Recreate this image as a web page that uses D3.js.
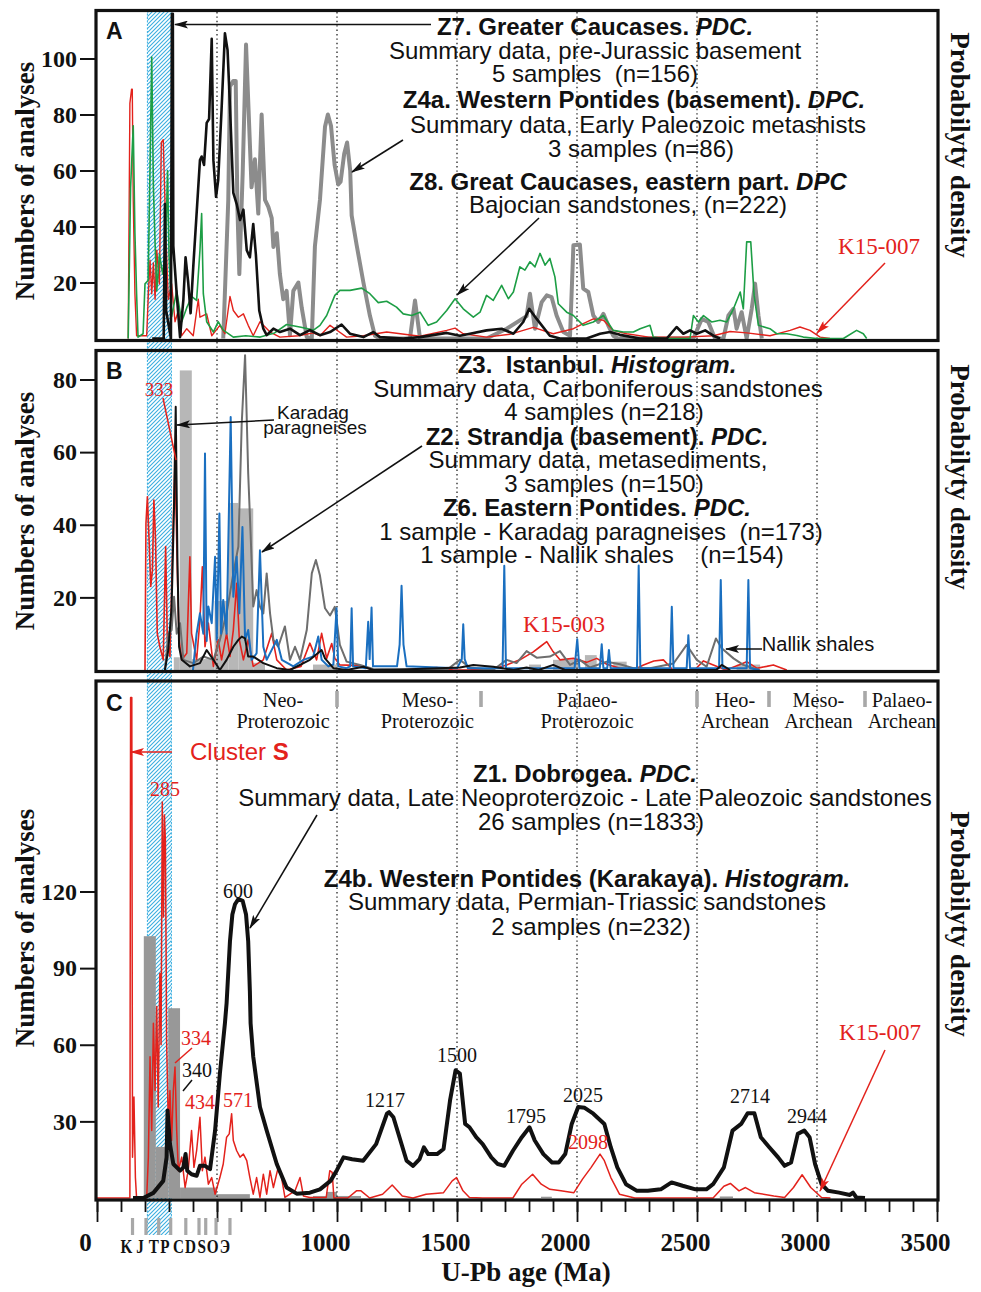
<!DOCTYPE html>
<html>
<head>
<meta charset="utf-8">
<script src="https://cdn.jsdelivr.net/npm/d3@7"></script>
<style>
  body { margin: 0; background: #fff; }
  svg text { white-space: pre; }
</style>
</head>
<body>
<div id="chart"></div>
<script>
/* U-Pb detrital zircon age spectra, three stacked panels A, B, C */

// ---- panel A : [age Ma, value] ----
const A_Z7_PDC = [[230,0],[278,0],[283,48],[288,10],[300,4],[308,0],[312,116],[316,116],[318,33],[332,16],[346,0.5],[360,14],[369,29],[380,20],[390,9],[401,25.5],[415,44.6],[429,63.7],[436,65],[446,62],[457,77],[467,78.4],[478,107],[485,63.7],[496,50.6],[505,56.6],[519,81.7],[533,109],[544,103],[554,83],[568,52],[582,48],[596,42.3],[610,46],[624,31.5],[637,29],[651,40.9],[662,30],[676,10],[693,3.5],[707,1.2],[735,3.5],[762,2.3],[804,3.5],[846,1.2],[887,3],[929,1.2],[971,2.3],[1019,5],[1054,1.7],[1110,0.5],[1151,2.3],[1179,0.5],[1276,0],[1346,0.5],[1457,2],[1512,1],[1554,1.7],[1623,2.9],[1686,3.5],[1735,1.7],[1776,5.9],[1801,10.6],[1832,7],[1887,1],[1929,0],[2040,0],[2096,1.7],[2137,2.3],[2179,1.3],[2262,0],[2374,0],[2415,4.1],[2443,1.7],[2471,2.9],[2499,1.7],[2534,2.9],[2568,1],[2596,0]];
const A_Z4A_DPC = [[526,0],[547,49.5],[554,90],[568,92],[578,92],[585,47],[593,23],[607,59],[621,105],[630,85],[644,54],[658,64],[672,44.6],[686,80],[700,49.5],[714,47],[728,43],[735,32.7],[749,37.6],[762,23],[776,14],[790,17],[804,1.2],[818,17],[839,20],[853,11],[874,0.5],[895,0],[908,33],[929,49.5],[950,75.6],[962,80],[975,76],[990,62],[1005,55],[1015,56],[1030,66],[1042,70],[1055,60],[1061,44],[1082,33.3],[1110,20],[1137,8.2],[1158,1],[1179,0],[1304,0],[1325,13.6],[1346,0],[1623,0],[1707,3.5],[1790,8],[1804,16],[1825,3.5],[1853,13],[1874,15.4],[1894,14.8],[1915,8.2],[1943,2.3],[1971,1],[1985,33.3],[2012,33.6],[2026,17.8],[2047,16.6],[2068,8.2],[2089,5.9],[2110,8.8],[2130,4.7],[2151,1],[2170,0],[2485,0],[2520,7],[2547,5.9],[2575,0],[2610,0],[2631,8.2],[2652,10.6],[2665,3.5],[2686,9.4],[2707,0],[2728,10.6],[2742,19.6],[2756,8.2],[2770,0]];
const A_Z8_DPC = [[130,0],[140,54],[151,76],[158,37.6],[165,16],[171,0.5],[192,1.7],[200,19.5],[213,20.7],[221,61],[228,100.5],[235,54],[242,34],[249,17],[260,30],[274,23],[286,32],[294,60],[300,30],[311,7.8],[332,17],[353,6],[374,11],[395,15],[415,13.6],[429,31.5],[436,44.6],[443,16],[457,6],[485,2.3],[505,6],[526,3],[568,0.5],[620,1],[680,0.5],[740,2],[790,5],[850,4],[902,3],[929,4.7],[957,8.2],[991,15.4],[1012,17.2],[1054,17.2],[1103,18],[1137,16],[1172,12.8],[1207,13.3],[1248,11.2],[1276,8.8],[1311,8.2],[1346,9.4],[1380,4.7],[1415,5.9],[1457,10],[1492,14.2],[1526,10.6],[1568,7.6],[1596,9.4],[1623,15.4],[1651,13.6],[1686,19],[1714,14.2],[1735,16.6],[1762,25.6],[1783,24.4],[1804,27.4],[1825,25.6],[1846,30.4],[1867,26.2],[1887,28.6],[1908,22],[1922,12.4],[1957,9.4],[1985,8.2],[2026,4.7],[2068,5.9],[2110,8.2],[2151,2.9],[2193,2.3],[2235,2.3],[2263,3.5],[2304,4.7],[2318,0.5],[2360,0],[2471,0],[2485,8.2],[2506,5.9],[2527,8.2],[2561,5.9],[2596,6.5],[2624,5.9],[2652,10.6],[2680,16.6],[2693,10.6],[2707,34.5],[2724,34.5],[2738,15.4],[2756,4.7],[2804,3.5],[2832,1.7],[2874,1.7],[2916,1.1],[2943,0.5],[2999,0],[3110,0],[3165,2.9],[3193,1.7],[3207,0]];
const A_K15_007 = [[130,0],[137,84],[144,89],[147,89],[151,49.5],[158,16],[165,1],[207,1],[214,16],[221,28],[228,16],[235,27],[242,14],[249,31.5],[260,19.5],[268,70],[276,71],[283,49.5],[290,30],[297,14],[311,19.5],[325,6],[339,10],[353,1],[374,3.5],[401,1],[422,14],[429,7.6],[457,8.8],[478,1],[512,4.7],[533,1.7],[554,15],[568,10],[589,7.6],[610,8.8],[630,4.7],[651,1],[679,6],[721,2.3],[762,0.5],[840,1],[900,2],[929,1],[971,4.7],[991,3.5],[1040,0.5],[1110,1],[1207,2.3],[1346,0.8],[1457,2.9],[1492,3.7],[1526,1.7],[1623,0.5],[1720,1.5],[1818,4],[1901,1.7],[1985,3.5],[2026,5.3],[2068,7],[2110,6.5],[2151,2.9],[2207,1.7],[2300,0.5],[2450,0.5],[2568,1],[2638,2.5],[2707,2],[2804,1],[2888,2.9],[2929,4.1],[2971,2.9],[3013,0.5],[3054,0]];

// ---- panel B ----
// histogram bins: [from Ma, to Ma, count]
const B_Z3_HIST = [[320,345,3.5],[345,395,82.5],[395,490,3],[490,547,19],[547,589,46],[589,651,44.5],[651,700,2],[900,1000,1.5],[1800,1850,1.5],[1900,2005,2.8],[2033,2082,4.1],[2151,2207,2.3],[2665,2763,1.5]];
const B_Z2_PDC = [[400,0],[415,10],[429,15.6],[443,10],[450,59.6],[457,8],[464,17.5],[478,12.9],[492,31.2],[499,8.3],[510,43.1],[517,10],[526,19.3],[540,10],[557,69.7],[568,20.2],[582,31.2],[593,15.6],[606,39.4],[617,8.3],[630,11],[644,2.8],[665,4.6],[679,33],[693,6.4],[707,2.8],[749,8.3],[770,2.8],[818,1],[860,2.8],[901,3.7],[922,9.2],[936,2.8],[964,1],[985,1.5],[998,17],[1005,1],[1040,0.5],[1055,1],[1061,17],[1067,1],[1120,0.5],[1130,13.3],[1136,3],[1144,17.2],[1150,1],[1250,1],[1261,7],[1269,23.2],[1277,7],[1290,1],[1500,0.5],[1520,3],[1526,12.6],[1532,3],[1545,0.5],[1690,0.5],[1697,28.7],[1704,0.5],[1990,0.5],[2001,8.5],[2010,0.5],[2095,0.5],[2103,7.1],[2110,0.5],[2126,0.5],[2133,5.5],[2140,0.5],[2250,0.5],[2257,28.8],[2264,0.5],[2388,0.5],[2395,17.4],[2402,0.5],[2457,0.5],[2464,9.6],[2471,0.5],[2592,0.5],[2599,24.8],[2606,0.5],[2707,0.5],[2714,24.8],[2721,0.5],[2760,0]];
const B_Z6_KARADAG = [[283,0],[297,5.5],[311,17.5],[321,45],[328,72.5],[335,31.2],[342,6.4],[353,2.8],[387,1],[429,1.9],[457,5.5],[485,2.8],[512,0],[540,2.8],[568,6.4],[589,8.3],[603,9.2],[617,8.7],[630,3.7],[651,3.7],[693,1.9],[749,0.5],[804,0],[887,2.8],[936,5.5],[950,3.2],[985,0.5],[1040,0],[1110,0.9],[1151,0],[1332,0.3],[1512,0.7],[1568,1.4],[1651,0.9],[1735,0],[1790,0.7],[1840,0],[1901,1.4],[1950,0],[2580,0],[2603,1.4],[2638,0]];
const B_Z6_NALLIK = [[283,0],[297,10],[311,11],[321,20.2],[332,10],[346,12.9],[360,2.8],[401,1.9],[443,3.7],[485,2.8],[512,8.3],[540,15.6],[568,26.6],[589,34],[603,67.9],[617,86.7],[630,54.1],[640,37.6],[651,17.5],[665,22],[679,17.5],[693,15.6],[707,26.6],[721,15.6],[735,8.3],[755,6.4],[783,12],[804,2.8],[825,6.4],[846,2.8],[874,11],[895,26.6],[912,30.3],[929,26],[950,17],[971,15],[991,17.4],[1012,6.9],[1040,2.3],[1096,1.4],[1151,0.3],[1300,0],[1457,0],[1512,2.8],[1554,0.7],[1650,0],[1707,2.8],[1748,1.9],[1790,5.2],[1832,3.4],[1887,3.7],[1929,5.2],[1971,1.4],[2012,2.8],[2054,0.7],[2124,2.3],[2179,1.6],[2235,0.5],[2304,0.5],[2402,1.8],[2457,6.9],[2499,2.8],[2540,0.9],[2579,8.7],[2603,6],[2652,3.2],[2693,1.4],[2735,0.5],[2760,0]];
const B_K15_003 = [[200,0],[204,40.4],[210,47.7],[217,35.8],[224,23],[231,27.5],[237,46.8],[244,35.8],[251,10.1],[262,6.4],[276,2.8],[286,34],[293,8.3],[304,3.7],[315,34],[325,57.8],[335,26.6],[342,8.3],[353,2.8],[374,4.6],[387,31.2],[394,10.1],[415,2.8],[429,13.8],[439,28.4],[450,6.4],[464,12.9],[485,1],[505,8.3],[519,2.8],[540,10.1],[554,3.7],[568,11],[582,23.9],[593,8.3],[610,2.8],[630,8.3],[651,1],[693,2.8],[728,10.1],[749,2.8],[790,0],[850,1],[887,7.4],[915,2.8],[936,10.1],[957,3.2],[978,7.3],[991,3.2],[1012,1.4],[1096,1.2],[1151,0],[1276,0],[1346,0.3],[1415,0.7],[1485,0],[1540,0],[1651,0.3],[1707,1.4],[1762,2.8],[1818,5],[1846,6.4],[1874,7.8],[1901,5],[1929,2.8],[1985,3.2],[2040,2.1],[2082,3.2],[2124,1.6],[2179,0.5],[2235,0],[2277,1.4],[2320,2.5],[2360,2.8],[2400,0],[2490,0],[2527,2.5],[2568,1.4],[2620,0],[2680,1.5],[2707,2.3],[2749,0.5],[2790,1],[2818,1.4],[2874,0]];

// ---- panel C ----
const C_Z4B_HIST = [[195,245,102.5],[245,297,20],[297,346,74.3],[346,499,4.1],[499,637,1.5],[900,955,0.8],[955,1000,2.4],[1000,1100,0.8],[1850,1895,0.5],[2595,2650,0.6],[3170,3200,0.3]];
const C_Z1_PDC = [[150,0],[193,0],[235,2],[276,6.7],[290,15.9],[294,34.3],[304,21.1],[318,13.3],[346,10.7],[360,12],[369,17.2],[376,10.7],[394,9.3],[415,8.7],[429,12.6],[450,12.6],[471,11.3],[492,26.4],[512,48.7],[533,68.4],[540,76.3],[554,100.5],[564,111],[575,115],[589,117],[607,116.3],[621,111],[630,100.5],[637,80.9],[640,68.4],[651,55.3],[679,35.6],[707,26.4],[749,13.3],[790,4.1],[832,1.7],[887,2.1],[929,3.4],[973,6.7],[1000,11],[1027,15.9],[1063,15.2],[1109,14.6],[1163,21.1],[1208,33],[1217,33.6],[1235,31.6],[1290,14.6],[1317,12.6],[1344,15.2],[1362,19.8],[1380,17.2],[1417,17.2],[1444,19.2],[1471,38.2],[1494,50],[1512,48.7],[1534,29],[1552,27.7],[1580,23.8],[1607,21.1],[1643,15.9],[1670,13.3],[1697,12.6],[1733,18.5],[1770,23.8],[1802,27.7],[1824,22.5],[1860,17.2],[1896,13.9],[1924,13.9],[1951,17.2],[1978,29],[2005,35.6],[2032,35.3],[2068,33],[2114,29],[2141,19.8],[2168,12],[2204,5.4],[2250,2.8],[2295,2.8],[2349,3.4],[2394,6.1],[2440,4.8],[2494,3.4],[2539,3.4],[2567,5.4],[2612,12],[2648,26.4],[2684,29],[2711,33.2],[2739,33.2],[2766,23.8],[2802,19.8],[2838,15.9],[2865,12.6],[2892,13.9],[2920,25.1],[2947,26.4],[2969,23.8],[2992,13.3],[3019,5.4],[3046,2.8],[3092,2.1],[3137,1.2],[3150,2.1],[3164,0.2],[3200,0]];
const C_K15_007 = [[0,0],[137,0],[140,196],[145,196],[148,16],[154,39.5],[160,8],[165,0],[207,0],[214,16],[221,55.3],[228,26.4],[235,68.4],[242,42.1],[249,75],[255,35.6],[262,88],[267,60],[272,155],[277,110],[281,150],[285,140],[288,95],[290,61.8],[297,29],[304,42.1],[311,22.5],[318,42.1],[325,51.3],[332,26.4],[339,10.7],[353,16],[367,4.1],[380,10.7],[394,26.4],[404,12],[415,18.5],[429,31.6],[439,10.7],[450,16],[464,5.4],[478,8],[492,1.5],[512,8],[526,13.3],[540,23.8],[551,25.1],[561,33],[568,22.5],[582,18.5],[596,16],[610,17.2],[624,14.6],[637,8],[651,1.5],[665,8],[679,0.2],[693,9.3],[707,1.5],[721,10.7],[735,4.1],[755,12],[769,8],[783,0.2],[804,1.5],[825,2.8],[846,8],[860,0.8],[887,0.2],[955,0.2],[970,10.7],[980,10],[987,0],[1045,0],[1081,2.8],[1100,2.8],[1136,0],[1190,1.5],[1230,5.1],[1272,0.8],[1317,0],[1371,1.5],[1444,2.1],[1480,6.7],[1498,8],[1525,2.8],[1552,0.2],[1607,0],[1733,0],[1770,5.4],[1815,9.3],[1851,5.4],[1887,3.4],[1933,2.8],[1987,2.1],[2023,7.4],[2059,12],[2096,17.2],[2114,14.6],[2141,8],[2177,1.5],[2241,0],[2567,0],[2612,4.6],[2639,5.7],[2675,2.8],[2702,4.1],[2739,2.1],[2820,0.8],[2865,0.2],[2902,4.1],[2938,9.1],[2974,4.1],[3019,0.2],[3056,0]];

// ---- axes, time scale ----
const A_TICKS = [20, 40, 60, 80, 100];
const B_TICKS = [20, 40, 60, 80];
const C_TICKS = [30, 60, 90, 120];
const X_MINOR = d3.range(0, 3501, 100);
const X_MAJOR = d3.range(0, 3501, 500);
const BAND = [210, 310];                 // hatched age band
const GRID = [500, 1000, 1500, 2000, 2500, 3000];
const PERIODS = ['K', 'J', 'T', 'P', 'C', 'D', 'S', 'O', 'Э'];
const PERIOD_MID = [123, 179, 237, 283, 339, 390, 436, 482, 533];
const PERIOD_BOUNDS = [148, 204, 257, 307, 370, 425, 453, 496, 554];
const ERAS = [['Neo-', 'Proterozoic'], ['Meso-', 'Proterozoic'], ['Palaeo-', 'Proterozoic'], ['Heo-', 'Archean'], ['Meso-', 'Archean'], ['Palaeo-', 'Archean']];
const ERA_MID = [775, 1377, 2042, 2658, 3006, 3354];
const ERA_BOUNDS = [1000, 1600, 2500, 2800, 3200];

const SANS = '"Liberation Sans", Arial, Helvetica, sans-serif';
const SERIF = '"Liberation Serif", "Times New Roman", Times, serif';
const RED = '#e3221c', GREEN = '#1d9e45', BLUE = '#1a6fc0', HATCH = '#3aaee0';

const svg = d3.select('#chart').append('svg').attr('width', 981).attr('height', 1292);
const defs = svg.append('defs');

const x = d3.scaleLinear().domain([0, 3500]).range([97, 937]);

const panels = [
    {name: 'A', top: 10.5, bottom: 340.5, y: d3.scaleLinear().domain([0, 100]).range([338.5, 58.5]), ticks: A_TICKS},
    {name: 'B', top: 350.5, bottom: 671.5, y: d3.scaleLinear().domain([0, 80]).range([670, 379.5]), ticks: B_TICKS},
    {name: 'C', top: 681, bottom: 1200, y: d3.scaleLinear().domain([0, 120]).range([1198, 891.5]), ticks: C_TICKS}
];
const P = {A: panels[0], B: panels[1], C: panels[2]};

// layers
const gHatch = svg.append('g'), gHist = svg.append('g'), gGrid = svg.append('g'),
      gLines = svg.append('g'), gFrame = svg.append('g'), gText = svg.append('g');

// hatch pattern
const pat = defs.append('pattern').attr('id', 'hatch').attr('patternUnits', 'userSpaceOnUse')
    .attr('width', 4).attr('height', 4);
pat.append('path').attr('d', 'M-1,1 L1,-1 M0,4 L4,0 M3,5 L5,3')
    .attr('stroke', HATCH).attr('stroke-width', 1.1);

gHatch.append('rect')
    .attr('x', x(BAND[0])).attr('y', 10).attr('width', x(BAND[1]) - x(BAND[0])).attr('height', 1225)
    .attr('fill', 'url(#hatch)');
BAND.forEach(b => gHatch.append('line')
    .attr('x1', x(b)).attr('x2', x(b)).attr('y1', 10).attr('y2', 1235)
    .attr('stroke', HATCH).attr('stroke-width', 1).attr('stroke-dasharray', '2,1.5'));

// arrowheads
function marker(id, color) {
    defs.append('marker').attr('id', id).attr('viewBox', '0 0 14 8')
        .attr('refX', 13).attr('refY', 4).attr('markerWidth', 14).attr('markerHeight', 8)
        .attr('markerUnits', 'userSpaceOnUse').attr('orient', 'auto')
        .append('path').attr('d', 'M0,0 L14,4 L0,8 L3,4 Z').attr('fill', color);
}
marker('arK', '#111');
marker('arR', RED);

// clip paths
panels.forEach(p => {
    defs.append('clipPath').attr('id', 'clip' + p.name).append('rect')
        .attr('x', 97).attr('y', p.top).attr('width', 840).attr('height', p.bottom - p.top);
});

function hist(p, bins, color) {
    gHist.append('g').attr('clip-path', `url(#clip${p.name})`)
        .selectAll('rect').data(bins).enter().append('rect')
        .attr('x', d => x(d[0]))
        .attr('width', d => x(d[1]) - x(d[0]))
        .attr('y', d => p.y(d[2]))
        .attr('height', d => p.y(0) - p.y(d[2]))
        .attr('fill', color);
}

function curve(p, data, color, width) {
    const line = d3.line().x(d => x(d[0])).y(d => p.y(d[1]));
    gLines.append('path').datum(data)
        .attr('clip-path', `url(#clip${p.name})`)
        .attr('d', line)
        .attr('fill', 'none')
        .attr('stroke', color)
        .attr('stroke-width', width)
        .attr('stroke-linejoin', 'round');
}

hist(P.B, B_Z3_HIST, '#b7b7b7');
hist(P.C, C_Z4B_HIST, '#989898');

// dotted age grid
gGrid.selectAll('line').data(GRID).enter().append('line')
    .attr('x1', d => x(d)).attr('x2', d => x(d))
    .attr('y1', 12).attr('y2', 1198)
    .attr('stroke', '#222').attr('stroke-width', 1.3).attr('stroke-dasharray', '1.4,3');

// panel A
curve(P.A, A_Z4A_DPC, '#8c8c8c', 4);
curve(P.A, A_K15_007, RED, 1.4);
curve(P.A, A_Z8_DPC, GREEN, 1.6);
curve(P.A, A_Z7_PDC, '#111', 2.6);
// panel B
curve(P.B, B_K15_003, RED, 1.6);
curve(P.B, B_Z6_NALLIK, '#6e6e6e', 2);
curve(P.B, B_Z2_PDC, BLUE, 2);
curve(P.B, B_Z6_KARADAG, '#111', 2);
// panel C
curve(P.C, C_K15_007, RED, 1.5);
curve(P.C, C_Z1_PDC, '#111', 4);

// frames and y axes
panels.forEach(p => {
    gFrame.append('rect')
        .attr('x', 96).attr('y', p.top).attr('width', 842).attr('height', p.bottom - p.top)
        .attr('fill', 'none').attr('stroke', '#111').attr('stroke-width', 3.2);

    const ax = gFrame.append('g').attr('transform', 'translate(96,0)')
        .call(d3.axisLeft(p.y).tickValues(p.ticks).tickSize(16).tickPadding(3));
    ax.select('.domain').remove();
    ax.selectAll('line').attr('stroke', '#111').attr('stroke-width', 2);
    ax.selectAll('text').attr('fill', '#111')
        .style('font-family', SERIF).style('font-size', '24px').style('font-weight', 'bold');
});

// x axis
const xMinor = gFrame.append('g').attr('transform', 'translate(0,1200)')
    .call(d3.axisBottom(x).tickValues(X_MINOR).tickSize(12).tickFormat(''));
const xMajor = gFrame.append('g').attr('transform', 'translate(0,1200)')
    .call(d3.axisBottom(x).tickValues(X_MAJOR).tickSize(22).tickPadding(11).tickFormat(d => d === 500 ? '' : d));
[xMinor, xMajor].forEach(a => {
    a.select('.domain').remove();
    a.selectAll('line').attr('stroke', '#111').attr('stroke-width', 1.8);
});
xMajor.selectAll('text').attr('x', -12).attr('fill', '#111')
    .style('font-family', SERIF).style('font-size', '25px').style('font-weight', 'bold');

// period bars and letters under the axis
gFrame.selectAll('.pbar').data(PERIOD_BOUNDS).enter().append('rect')
    .attr('class', 'pbar')
    .attr('x', d => x(d) - 1.6).attr('y', 1218).attr('width', 3.2).attr('height', 17)
    .attr('fill', '#a8a8a8');

// text helper: parts = string | [[text, 'i'|'b'|'']]
function txt(px, py, parts, o = {}) {
    const t = gText.append('text')
        .attr('text-anchor', o.anchor || 'middle')
        .attr('fill', o.color || '#111')
        .style('font-family', o.serif ? SERIF : SANS)
        .style('font-size', (o.size || 24) + 'px')
        .style('font-weight', o.bold ? 'bold' : 'normal');
    if (o.sx) t.attr('transform', `translate(${px},${py}) scale(${o.sx},1)`);
    else if (o.rot) t.attr('transform', `translate(${px},${py}) rotate(${o.rot})`);
    else t.attr('x', px).attr('y', py);
    if (typeof parts === 'string') t.text(parts);
    else parts.forEach(q => t.append('tspan').text(q[0])
        .style('font-style', q[1] === 'i' ? 'italic' : null)
        .style('font-weight', q[1] === 'b' ? 'bold' : null));
    return t;
}

function arrow(x1, y1, x2, y2, color = '#111', head = true) {
    gText.append('line').attr('x1', x1).attr('y1', y1).attr('x2', x2).attr('y2', y2)
        .attr('stroke', color).attr('stroke-width', 1.5)
        .attr('marker-end', head ? (color === RED ? 'url(#arR)' : 'url(#arK)') : null);
}

PERIODS.forEach((s, i) => txt(x(PERIOD_MID[i]), 1253, s, {serif: true, bold: true, size: 19, sx: 0.8}));

// era labels panel C
ERA_BOUNDS.forEach(b => gText.append('rect')
    .attr('x', x(b) - 1.8).attr('y', 691).attr('width', 3.6).attr('height', 16).attr('fill', '#a8a8a8'));
ERAS.forEach((e, i) => {
    txt(x(ERA_MID[i]), 707, e[0], {serif: true, size: 22, sx: 0.92});
    txt(x(ERA_MID[i]), 728, e[1], {serif: true, size: 22, sx: 0.92});
});

// axis titles
panels.forEach((p, i) => {
    txt(34, [181, 511, 928][i], 'Numbers of analyses', {serif: true, bold: true, size: 27, rot: -90});
    txt(951, [145, 477, 924][i], 'Probabilyty density', {serif: true, bold: true, size: 27, rot: 90});
    txt(106, [39, 379, 711][i], p.name, {bold: true, size: 23, anchor: 'start'});
});
txt(526, 1281, 'U-Pb age (Ma)', {serif: true, bold: true, size: 27});

// ---- panel A annotations ----
txt(595, 35, [['Z7. Greater Caucases. ', ''], ['PDC.', 'i']], {bold: true});
txt(595, 59, 'Summary data, pre-Jurassic basement');
txt(595, 82, '5 samples  (n=156)');
txt(634, 108, [['Z4a. Western Pontides (basement). ', ''], ['DPC.', 'i']], {bold: true});
txt(638, 133, 'Summary data, Early Paleozoic metashists');
txt(641, 157, '3 samples (n=86)');
txt(628, 190, [['Z8. Great Caucases, eastern part. ', ''], ['DPC', 'i']], {bold: true});
txt(628, 213, 'Bajocian sandstones, (n=222)');
txt(879, 254, 'K15-007', {serif: true, size: 23, color: RED});
arrow(431, 24.5, 175, 24.5);
arrow(403, 140, 352, 172);
arrow(539, 218, 457, 295);
arrow(885, 263, 817, 333, RED);

// ---- panel B annotations ----
txt(597, 373, [['Z3.  Istanbul. ', ''], ['Histogram.', 'i']], {bold: true});
txt(598, 397, 'Summary data, Carboniferous sandstones');
txt(604, 420, '4 samples (n=218)');
txt(597, 445, [['Z2. Strandja (basement). ', ''], ['PDC.', 'i']], {bold: true});
txt(598, 468, 'Summary data, metasediments,');
txt(604, 492, '3 samples (n=150)');
txt(597, 516, [['Z6. Eastern Pontides. ', ''], ['PDC.', 'i']], {bold: true});
txt(601, 540, '1 sample - Karadag paragneises  (n=173)');
txt(602, 563, '1 sample - Nallik shales    (n=154)');
txt(313, 419, 'Karadag', {size: 19});
txt(315, 434, 'paragneises', {size: 19});
arrow(274, 420, 177, 425);
arrow(422, 446, 262, 552);
txt(159, 396, '333', {serif: true, size: 19, color: RED});
arrow(163, 398, 176, 460, RED, false);
txt(564, 632, 'K15-003', {serif: true, size: 23, color: RED});
txt(818, 651, 'Nallik shales', {size: 20});
arrow(762, 649, 726, 649);

// ---- panel C annotations ----
txt(585, 782, [['Z1. Dobrogea. ', ''], ['PDC.', 'i']], {bold: true});
txt(585, 806, 'Summary data, Late Neoproterozoic - Late Paleozoic sandstones');
txt(591, 830, '26 samples (n=1833)');
txt(587, 887, [['Z4b. Western Pontides (Karakaya). ', ''], ['Histogram.', 'i']], {bold: true});
txt(587, 910, 'Summary data, Permian-Triassic sandstones');
txt(591, 935, '2 samples (n=232)');
arrow(317, 815, 250, 928);
txt(190, 760, [['Cluster ', ''], ['S', 'b']], {color: RED, anchor: 'start'});
arrow(172, 752, 131, 752, RED);
txt(165, 796, '285', {serif: true, size: 20, color: RED});
txt(196, 1045, '334', {serif: true, size: 20, color: RED});
arrow(192, 1048, 175, 1063, RED, false);
txt(197, 1077, '340', {serif: true, size: 20});
arrow(192, 1080, 183, 1091, '#111', false);
txt(200, 1109, '434', {serif: true, size: 20, color: RED});
txt(238, 1107, '571', {serif: true, size: 20, color: RED});
txt(238, 898, '600', {serif: true, size: 20});
txt(385, 1107, '1217', {serif: true, size: 20});
txt(457, 1062, '1500', {serif: true, size: 20});
txt(526, 1123, '1795', {serif: true, size: 20});
txt(583, 1102, '2025', {serif: true, size: 20});
txt(588, 1149, '2098', {serif: true, size: 20, color: RED});
txt(750, 1103, '2714', {serif: true, size: 20});
txt(807, 1123, '2944', {serif: true, size: 20});
txt(880, 1040, 'K15-007', {serif: true, size: 23, color: RED});
arrow(885, 1050, 820, 1191, RED);
</script>
</body>
</html>
